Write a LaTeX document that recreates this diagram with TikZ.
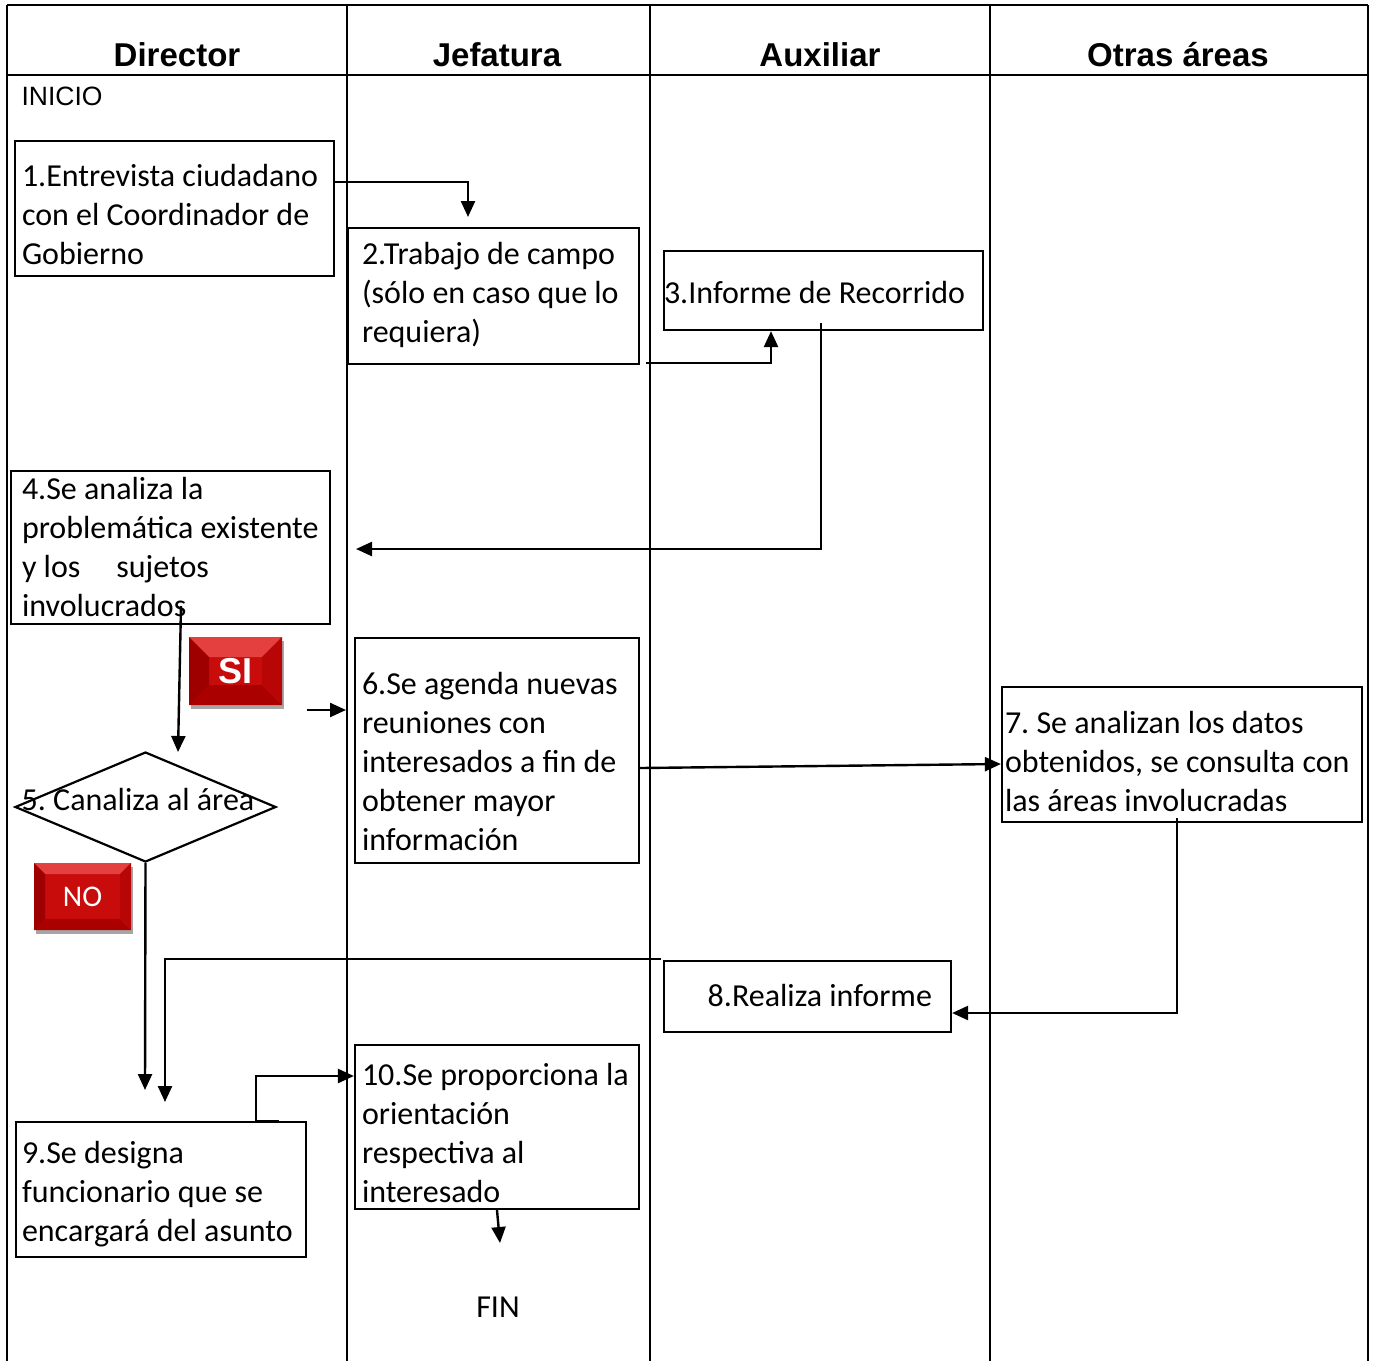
\documentclass[tikz,border=0pt]{standalone}
\usepackage{fontspec}
\setmainfont{Carlito}
\newfontfamily\arialfont{Liberation Sans}
\usetikzlibrary{arrows.meta}
\usetikzlibrary{shapes.geometric}
\usetikzlibrary{shadows}
\frenchspacing

\definecolor{badgered}{RGB}{200,12,12}
\definecolor{badgetop}{RGB}{228,64,64}
\definecolor{badgeleft}{RGB}{158,0,0}
\definecolor{badgeright}{RGB}{184,6,6}
\definecolor{badgebot}{RGB}{170,0,0}

\newcommand{\bodyfont}{\fontsize{32pt}{39pt}\selectfont}

\begin{document}
\begin{tikzpicture}[x=1pt,y=-1pt,>/.tip={Triangle[length=16pt,width=14pt]},
	every node/.style={font=\bodyfont},
	proc/.style={draw,line width=2.2pt,inner sep=0pt,align=flush left},
	lpad/.style={execute at begin node={\setlength{\leftskip}{#1}}},
	flow/.style={line width=2.4pt},
	head/.style={font=\arialfont\bfseries\fontsize{33pt}{40pt}\selectfont,anchor=base},
	badge/.style={fill=badgered,inner sep=0pt,text=white,
		drop shadow={shadow xshift=2pt,shadow yshift=-4pt,opacity=0.35,fill=black},
		path picture={
			\fill[badgetop] (path picture bounding box.north west) -- (path picture bounding box.north east)
				-- ([shift={(-#1,-#1)}]path picture bounding box.north east) -- ([shift={(#1,-#1)}]path picture bounding box.north west) -- cycle;
			\fill[badgeleft] (path picture bounding box.north west) -- ([shift={(#1,-#1)}]path picture bounding box.north west)
				-- ([shift={(#1,#1)}]path picture bounding box.south west) -- (path picture bounding box.south west) -- cycle;
			\fill[badgebot] (path picture bounding box.south west) -- ([shift={(#1,#1)}]path picture bounding box.south west)
				-- ([shift={(-#1,#1)}]path picture bounding box.south east) -- (path picture bounding box.south east) -- cycle;
			\fill[badgeright] (path picture bounding box.south east) -- ([shift={(-#1,#1)}]path picture bounding box.south east)
				-- ([shift={(-#1,-#1)}]path picture bounding box.north east) -- (path picture bounding box.north east) -- cycle;
		}}]
	\useasboundingbox (0,0) rectangle (1373,1361);
	% carriles
	\draw[line width=2pt] (7,5) -- (1368,5);
	\draw[line width=2pt] (7,75) -- (1368,75);
	\foreach \x in {7,347,650,990,1368}
		\draw[line width=2pt] (\x,5) -- (\x,1361);
	\node (hdir) [head] at (177,66) {Director};
	\node (hjef) [head] at (497,66) {Jefatura};
	\node (haux) [head] at (820,66) {Auxiliar};
	\node (hotr) [head] at (1178,66) {Otras áreas};

	\node (ini) [font=\arialfont\fontsize{26.5pt}{32pt}\selectfont] at (62,96) {INICIO};
	\draw (174.5,208.5) node (b1) [proc,lpad=7pt,text width=319pt,text height=45pt,text depth=90pt]
		{1.Entrevista ciudadano\\con el Coordinador de\\Gobierno};
	\draw (493.5,296) node (b2) [proc,lpad=14pt,text width=291pt,text height=36pt,text depth=100pt]
		{2.Trabajo de campo\\(sólo en caso que lo\\requiera)};
	\draw (823.5,290.5) node (b3) [proc,text width=319pt,text height=52pt,text depth=27pt]
		{3.Informe de Recorrido};
	\draw (170.5,547.5) node (b4) [proc,lpad=11pt,text width=319pt,text height=28pt,text depth=125pt]
		{4.Se analiza la\\problemática existente\\y los\hspace{36pt}sujetos\\involucrados};
	\draw (145.5,807) node (d5) [draw,shape=diamond,line width=2.2pt,minimum width=261pt,minimum height=110pt,inner sep=0pt,
		label={[xshift=-7.5pt,yshift=8pt]center:5. Canaliza al área}] {};
	\draw (497,750.5) node (b6) [proc,lpad=7pt,text width=284pt,text height=56pt,text depth=169pt]
		{6.Se agenda nuevas\\reuniones con\\interesados a fin de\\obtener mayor\\información};
	\draw (1182,754.5) node (b7) [proc,lpad=3pt,text width=360pt,text height=46pt,text depth=89pt]
		{7. Se analizan los datos\\obtenidos, se consulta con\\las áreas involucradas};
	\draw (807.5,996.5) node (b8) [proc,align=flush right,minimum width=287pt,text width=249pt,text height=45pt,text depth=26pt]
		{8.Realiza informe};
	\draw (161,1189.5) node (b9) [proc,lpad=6pt,text width=290pt,text height=41pt,text depth=94pt]
		{9.Se designa\\funcionario que se\\encargará del asunto};
	\draw (497,1127) node (b10) [proc,lpad=7pt,text width=284pt,text height=40pt,text depth=124pt]
		{10.Se proporciona la\\orientación\\respectiva al\\interesado};
	\node (fin) at (498,1307) {FIN};

	\node (si) [badge=20pt,minimum width=93pt,minimum height=68pt,font=\arialfont\bfseries\fontsize{36pt}{40pt}\selectfont]
		at (235.5,671) {SI};
	\node (no) [badge=11pt,minimum width=97pt,minimum height=67pt,font=\fontsize{30pt}{36pt}\selectfont]
		at (82.5,896.5) {NO};

	% extremos libres
	\coordinate (t2) at (468,217);
	\coordinate (t4) at (356,549);
	\coordinate (t5) at (178,752);
	\coordinate (s6) at (307,710);
	\coordinate (t6) at (346,710);
	\coordinate (t9a) at (145,1090);
	\coordinate (t9b) at (165,1102);
	\coordinate (t11) at (500,1243);

	\draw[flow,->] ([yshift=26.5pt]b1.east) -| (t2);
	\draw[flow,->] ([shift={(6pt,2pt)}]b2.south east) -| ([xshift=-52.5pt]b3.south);
	\draw[flow,->] ([shift={(-2.5pt,8pt)}]b3.south) |- (t4);
	\draw[flow,->] ([shift={(10.5pt,19pt)}]b4.south) -- (t5);
	\draw[flow,->] (s6) -- (t6);
	\draw[flow,->] ([yshift=-17.5pt]b6.east) -- ([yshift=-9.5pt]b7.west);
	\draw[flow,->] ([shift={(-5pt,5pt)}]b7.south) |- ([yshift=-16.5pt]b8.east);
	\draw[flow,->] ([shift={(-2pt,1pt)}]b8.north west) -| (t9b);
	\draw[flow,->] (d5.south) -- (t9a);
	\draw[flow,->] ([xshift=118pt]b9.north) -- ([xshift=95pt]b9.north) |- ([yshift=51pt]b10.west);
	\draw[flow,->] (b10.south) -- (t11);
\end{tikzpicture}
\end{document}
